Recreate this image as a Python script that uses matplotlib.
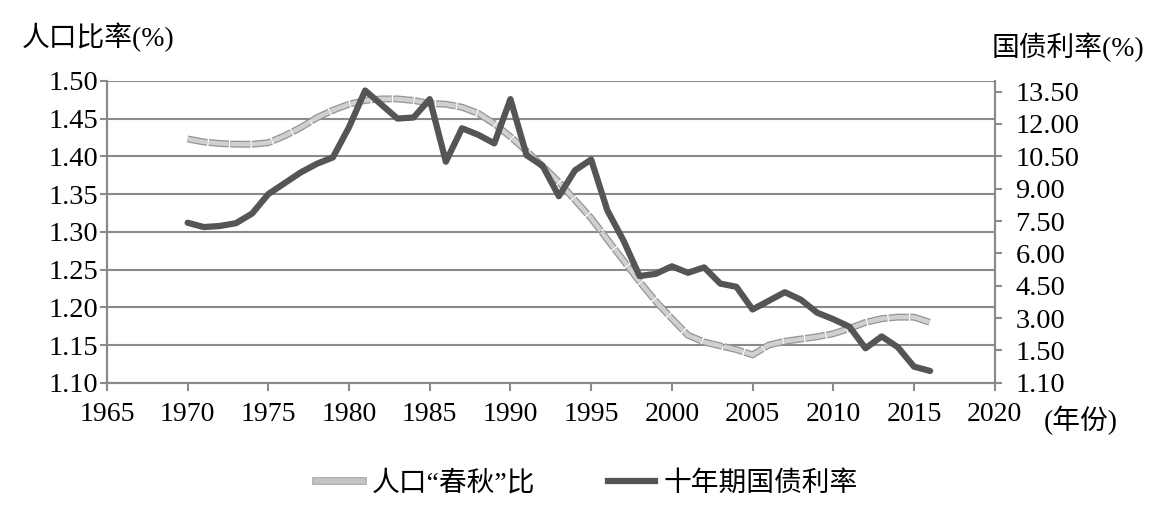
import matplotlib
matplotlib.use('Agg')
import matplotlib.pyplot as plt
import matplotlib.patheffects as pe

plt.rcParams['font.family'] = ['Liberation Serif', 'Noto Sans CJK SC']

# data
years = list(range(1970, 2017))
pop_ratio = [1.423, 1.419, 1.417, 1.416, 1.416, 1.418, 1.427, 1.438, 1.451, 1.461,
             1.469, 1.474, 1.476, 1.476, 1.474, 1.470, 1.469, 1.465, 1.457, 1.443,
             1.426, 1.407, 1.387, 1.366, 1.342, 1.318, 1.290, 1.262, 1.234, 1.208,
             1.185, 1.163, 1.154, 1.149, 1.144, 1.137, 1.150, 1.155, 1.158, 1.161,
             1.165, 1.172, 1.180, 1.185, 1.187, 1.187, 1.180]
bond_rate = [7.42, 7.22, 7.27, 7.40, 7.85, 8.75, 9.25, 9.75, 10.15, 10.45,
             11.85, 13.55, 12.90, 12.25, 12.30, 13.15, 10.25, 11.80, 11.50, 11.10,
             13.15, 10.55, 10.05, 8.65, 9.85, 10.35, 8.00, 6.60, 4.95, 5.05,
             5.40, 5.10, 5.35, 4.60, 4.45, 3.40, 3.80, 4.20, 3.85, 3.25,
             2.95, 2.60, 1.60, 2.15, 1.65, 0.75, 0.55]

left_ticks = [1.10, 1.15, 1.20, 1.25, 1.30, 1.35, 1.40, 1.45, 1.50]
right_ticks = [0, 1.5, 3.0, 4.5, 6.0, 7.5, 9.0, 10.5, 12.0, 13.5]
right_labels = ['1.10', '1.50', '3.00', '4.50', '6.00', '7.50', '9.00', '10.50', '12.00', '13.50']
x_ticks = list(range(1965, 2021, 5))

axcol = '#8a8a8a'

fig = plt.figure(figsize=(11.62, 5.18), dpi=100)
ax = fig.add_axes([0.092, 0.261, 0.764, 0.583])
ax2 = ax.twinx()

ax.set_xlim(1965, 2020)
ax.set_ylim(1.10, 1.50)
ax2.set_ylim(0, 14.0)

ax.set_yticks(left_ticks)
ax.set_yticklabels(['%.2f' % v for v in left_ticks])
ax.set_xticks(x_ticks)
ax2.set_yticks(right_ticks)
ax2.set_yticklabels(right_labels)

ax.grid(axis='y', color=axcol, linewidth=1.5)
ax.set_axisbelow(True)

for a in (ax, ax2):
    for s in a.spines.values():
        s.set_color(axcol)
        s.set_linewidth(1.5)
    a.spines['top'].set_visible(False)
ax.tick_params(axis='y', direction='out', length=5, width=1.5, color=axcol,
               labelsize=20.5, pad=1)
ax.tick_params(axis='x', direction='out', length=6, width=1.5, color=axcol,
               labelsize=20, pad=8)
ax2.tick_params(axis='y', direction='out', length=5, width=1.5, color=axcol,
                labelsize=20.5, pad=10)

# population ratio: light gray line with darker outline
l1, = ax.plot(years, pop_ratio, color='#d0d0d0', linewidth=3.2,
              dashes=(4.5, 0.35), solid_capstyle='round', zorder=3,
              path_effects=[pe.Stroke(linewidth=5.0, foreground='#949494'), pe.Normal()])
l2, = ax2.plot(years, bond_rate, color='#555555', linewidth=4.5,
               solid_joinstyle='round', solid_capstyle='round', zorder=4)

fig.text(0.019, 0.928, '人口比率(%)', fontsize=20, va='center', ha='left')
fig.text(0.853, 0.909, '国债利率(%)', fontsize=20, va='center', ha='left')
fig.text(0.898, 0.188, '(年份)', fontsize=20, va='center', ha='left')

h1 = matplotlib.lines.Line2D([], [], color='#c4c4c4', linewidth=4,
                             path_effects=[pe.Stroke(linewidth=5.5, foreground='#a0a0a0'), pe.Normal()])
h2 = matplotlib.lines.Line2D([], [], color='#555555', linewidth=4.5)
fig.legend([h1, h2], ['人口“春秋”比', '十年期国债利率'], loc='center',
           bbox_to_anchor=(0.505, 0.066), ncol=2, frameon=False, fontsize=20,
           handlelength=1.7, handletextpad=0.3, columnspacing=2.6)

fig.savefig('out.png', dpi=100)
